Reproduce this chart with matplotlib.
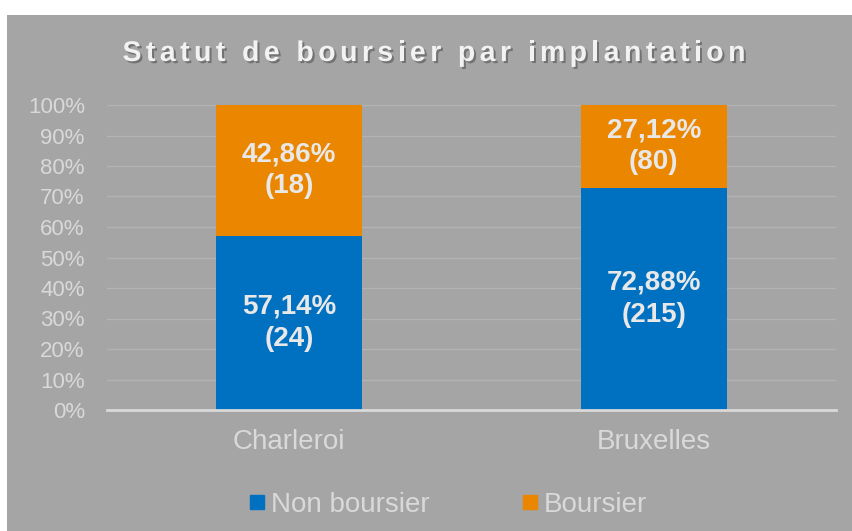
import matplotlib
matplotlib.use("Agg")
import matplotlib.pyplot as plt
import matplotlib.patheffects as pe
from matplotlib.patches import Rectangle
from matplotlib.lines import Line2D
import numpy as np

plt.rcParams['font.family'] = ['Liberation Sans', 'DejaVu Sans']

# data
sites = ['Charleroi', 'Bruxelles']
non_boursier = np.array([24, 215])
boursier = np.array([18, 80])
series_names = ['Non boursier', 'Boursier']
title = 'Statut de boursier par implantation'

total = non_boursier + boursier
pct_non = non_boursier / total * 100
pct_bou = boursier / total * 100

BG = '#a5a5a5'
BLUE = '#0070c0'
ORANGE = '#ea8600'
TXT = '#d9d9d9'
LBL = '#e8e8e8'

fig = plt.figure(figsize=(8.53, 5.31), dpi=100)
fig.patch.set_facecolor('white')
fig.patches.append(Rectangle((7 / 853, 0), 1, 516 / 531, transform=fig.transFigure,
                             facecolor=BG, edgecolor='none', zorder=-10))

ax = fig.add_axes([107 / 853, 1 - 410 / 531, (836 - 107) / 853, 305 / 531])
ax.set_facecolor('none')

x = np.arange(len(sites))
# soft shadow behind the whole stack
ax.bar(x, pct_non + pct_bou, width=0.4, color=BG, zorder=2,
       path_effects=[pe.SimplePatchShadow(offset=(0, -1.5), shadow_rgbFace='black', alpha=0.3)])
ax.bar(x, pct_non, width=0.4, color=BLUE, zorder=3)
ax.bar(x, pct_bou, width=0.4, bottom=pct_non, color=ORANGE, zorder=3)

for i in range(len(sites)):
    ax.text(x[i], pct_non[i] / 2, f"{pct_non[i]:.2f}%\n({non_boursier[i]})".replace('.', ','),
            ha='center', va='center', fontsize=20, fontweight='bold', color=LBL,
            linespacing=1.3, zorder=4)
    ax.text(x[i], pct_non[i] + pct_bou[i] / 2, f"{pct_bou[i]:.2f}%\n({boursier[i]})".replace('.', ','),
            ha='center', va='center', fontsize=20, fontweight='bold', color=LBL,
            linespacing=1.3, zorder=4)

ax.set_xlim(-0.5, 1.5)
ax.set_ylim(0, 100)
ax.set_yticks(np.arange(0, 101, 10))
ax.set_yticklabels([f"{v}%" for v in range(0, 101, 10)])
ax.set_xticks(x)
ax.set_xticklabels(sites)
ax.tick_params(axis='y', length=0, pad=16, labelsize=16, labelcolor=TXT)
ax.tick_params(axis='x', length=0, pad=14, labelsize=20, labelcolor=TXT)
ax.grid(axis='y', color='#b3b3b3', linewidth=1, zorder=1)
ax.set_axisbelow(True)
for s in ['top', 'right', 'left']:
    ax.spines[s].set_visible(False)
ax.spines['bottom'].set_color('#d9d9d9')
ax.spines['bottom'].set_linewidth(2)
ax.spines['bottom'].set_zorder(5)

# title with letter spacing, placed char by char
fig.canvas.draw()
renderer = fig.canvas.get_renderer()
tsize = 20.5
target_w = 623  # px


def width_of(s):
    t = fig.text(0, 0, s + '|', fontsize=tsize, fontweight='bold')
    w = t.get_window_extent(renderer).width
    t.remove()
    return w


bar_w = width_of('')
widths = [width_of(title[:i]) - bar_w for i in range(len(title) + 1)]
spacing = (target_w - widths[-1]) / (len(title) - 1)
x0 = 434 - target_w / 2
ty = 531 - 54
for i, ch in enumerate(title):
    if ch == ' ':
        continue
    fig.text((x0 + widths[i] + spacing * i) / 853, ty / 531, ch, fontsize=tsize,
             fontweight='bold', color='#f2f2f2', va='center', ha='left',
             path_effects=[pe.withSimplePatchShadow(offset=(1.5, -1.5), shadow_rgbFace='black', alpha=0.3)])

handles = [Line2D([], [], marker='s', linestyle='none', markersize=10.5, color=BLUE),
           Line2D([], [], marker='s', linestyle='none', markersize=10.5, color=ORANGE)]
leg = fig.legend(handles, series_names, loc='center', bbox_to_anchor=(448 / 853, 1 - 505 / 531),
                 ncol=2, frameon=False, fontsize=20, handletextpad=0.2, columnspacing=3.3,
                 handlelength=0.6)
for t in leg.get_texts():
    t.set_color(TXT)

fig.savefig('out.png', dpi=100, facecolor=fig.get_facecolor())
